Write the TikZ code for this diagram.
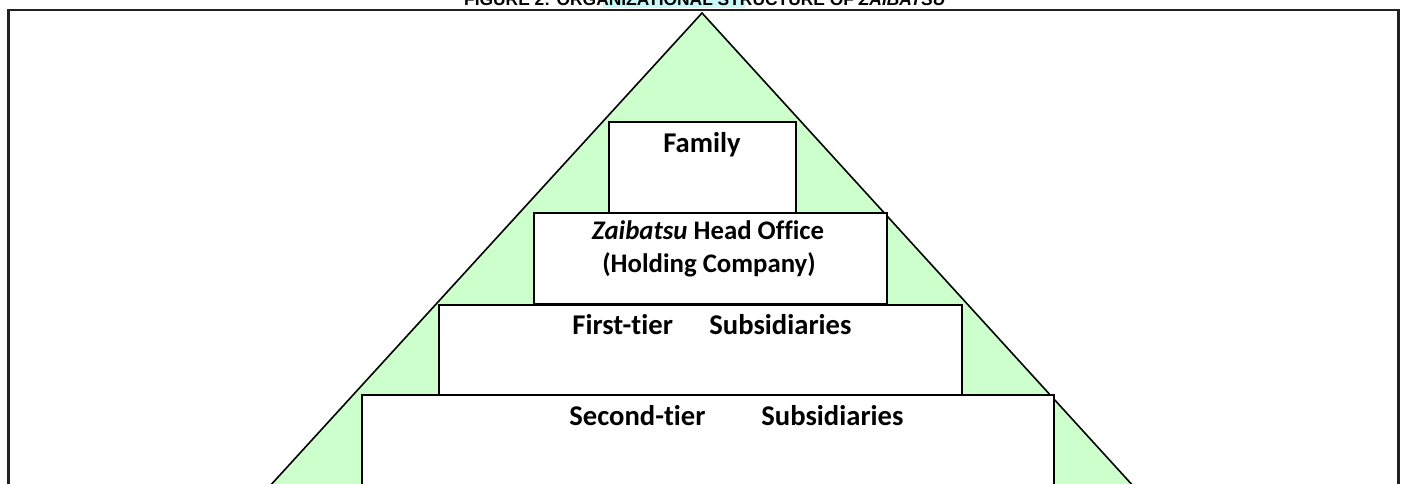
\documentclass[tikz,border=0pt]{standalone}
\usepackage{fontspec}
\setmainfont{Carlito}[Ligatures=NoCommon]
\newfontfamily\titlefont{Liberation Sans}
\definecolor{pyrgreen}{HTML}{CCFFCC}
\definecolor{hilite}{HTML}{C8F8F8}
\definecolor{framegray}{HTML}{222222}
\begin{document}
\begin{tikzpicture}[x=0.5pt,y=-0.5pt,
  tierbox/.style={draw=black,line width=1pt,fill=white,rectangle,inner sep=0pt,anchor=north west},
  tiertext/.style={font=\fontsize{14.3pt}{17pt}\selectfont\bfseries,inner sep=0pt,anchor=base west},
  headtext/.style={font=\fontsize{13.4pt}{16pt}\selectfont\bfseries,inner sep=0pt,anchor=base}]
\useasboundingbox (0,0) rectangle (1402,483);
% title (clipped at top, as in the reference)
\fill[hilite] (603,0) rectangle (745,8);
\node[font=\titlefont\fontsize{8.7pt}{9pt}\selectfont\bfseries,inner sep=0pt,anchor=base] (title) at (705,5) {FIGURE 2: ORGANIZATIONAL STRUCTURE OF \textit{ZAIBATSU}};
% frame
\coordinate (fbl) at (8.5,560);
\coordinate (ftl) at (8.5,10);
\coordinate (ftr) at (1398.5,10);
\coordinate (fbr) at (1398.5,560);
\draw[framegray,line width=1.2pt] (fbl) -- (ftl) -- (ftr) -- (fbr);
% pyramid
\coordinate (apex) at (702,13);
\coordinate (baseL) at (237,522);
\coordinate (baseR) at (1166,522);
\fill[pyrgreen] (apex) -- (baseR) -- (baseL) -- cycle;
\draw[line width=0.8pt] (baseL) -- (apex) -- (baseR);
% boxes
\node[tierbox,minimum width=1pt*187/2,minimum height=1pt*91/2] (family) at (608,121) {};
\node[tierbox,minimum width=1pt*353/2,minimum height=1pt*91/2] (head) at (533,212) {};
\node[tierbox,minimum width=1pt*523/2,minimum height=1pt*90/2] (first) at (438,304) {};
\node[tierbox,minimum width=1pt*692/2,minimum height=1pt*120/2] (second) at (361,394) {};
% texts
\node[tiertext,anchor=base] (tfam) at (702,152) {Family};
\node[headtext] (thead) at (708,239) {\textit{Zaibatsu} Head Office};
\node[headtext] (thold) at (709,272) {(Holding Company)};
\node[tiertext] (tfirstA) at (572,334) {First-tier};
\node[tiertext] (tfirstB) at (709,334) {Subsidiaries};
\node[tiertext] (tsecA) at (569,425) {Second-tier};
\node[tiertext] (tsecB) at (761,425) {Subsidiaries};
\end{tikzpicture}
\end{document}
